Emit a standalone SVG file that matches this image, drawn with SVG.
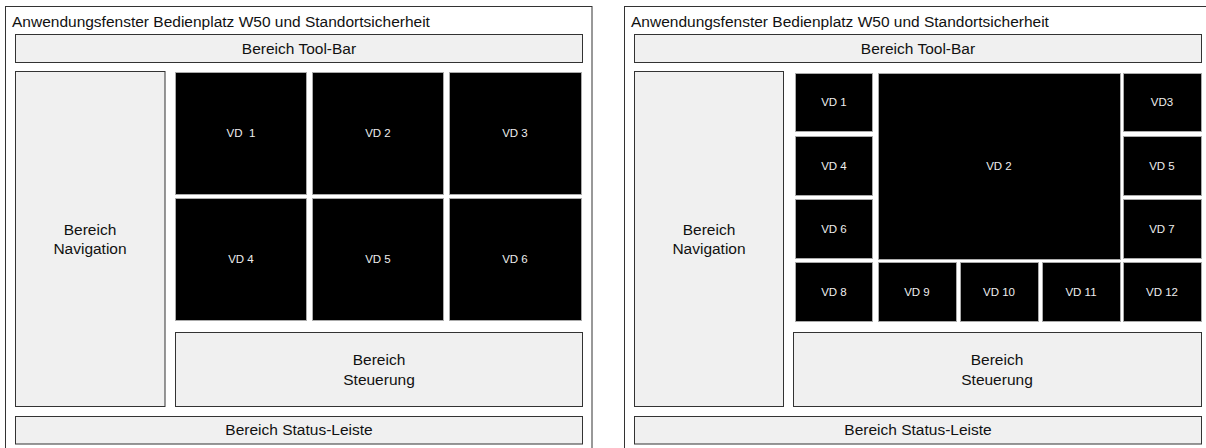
<svg xmlns="http://www.w3.org/2000/svg" width="1206" height="448" viewBox="0 0 1206 448">
<style>
text{font-family:"Liberation Sans",Arial,sans-serif;}
.frame{fill:#fff;stroke:#333;stroke-width:1}
.area{fill:#f0f0f0;stroke:#333;stroke-width:1}
.tile{fill:#000;stroke:#aaa;stroke-width:1}
.t{font-size:15.5px;fill:#111;text-anchor:middle}
.title{font-size:15.5px;fill:#111}
.v{font-size:11.5px;fill:#eee;text-anchor:middle;white-space:pre}
</style>
<rect width="1206" height="448" fill="#fff"/>
<g id="left-window">
  <rect class="frame" x="5.5" y="6.5" width="586.5" height="450"/>
  <text class="title" x="12" y="26.5">Anwendungsfenster Bedienplatz W50 und Standortsicherheit</text>
</g>
<g id="left-toolbar"><rect class="area" x="15.5" y="34.5" width="567" height="28"/><text class="t" x="299" y="53.5">Bereich Tool-Bar</text></g>
<g id="left-navigation"><rect class="area" x="15.5" y="71.5" width="149.5" height="335"/><text class="t" x="90" y="235">Bereich</text><text class="t" x="90" y="253.5">Navigation</text></g>
<g id="left-vd1"><rect class="tile" x="175.5" y="72.5" width="131" height="122"/><text class="v" x="241" y="137" xml:space="preserve">VD  1</text></g>
<g id="left-vd2"><rect class="tile" x="312.5" y="72.5" width="131" height="122"/><text class="v" x="378" y="137">VD 2</text></g>
<g id="left-vd3"><rect class="tile" x="449.5" y="72.5" width="132" height="122"/><text class="v" x="515" y="137">VD 3</text></g>
<g id="left-vd4"><rect class="tile" x="175.5" y="198.5" width="131" height="122"/><text class="v" x="241" y="263">VD 4</text></g>
<g id="left-vd5"><rect class="tile" x="312.5" y="198.5" width="131" height="122"/><text class="v" x="378" y="263">VD 5</text></g>
<g id="left-vd6"><rect class="tile" x="449.5" y="198.5" width="132" height="122"/><text class="v" x="515" y="263">VD 6</text></g>
<g id="left-steuerung"><rect class="area" x="175.5" y="332.5" width="407" height="74"/><text class="t" x="379" y="365">Bereich</text><text class="t" x="379" y="384.5">Steuerung</text></g>
<g id="left-status"><rect class="area" x="15.5" y="416.5" width="567" height="27.5"/><text class="t" x="299" y="435">Bereich Status-Leiste</text></g>

<g id="right-window">
  <rect class="frame" x="624.5" y="6.5" width="600" height="450"/>
  <text class="title" x="631" y="26.5">Anwendungsfenster Bedienplatz W50 und Standortsicherheit</text>
</g>
<g id="right-toolbar"><rect class="area" x="634.5" y="34.5" width="567" height="28"/><text class="t" x="918" y="53.5">Bereich Tool-Bar</text></g>
<g id="right-navigation"><rect class="area" x="634.5" y="71.5" width="149" height="335"/><text class="t" x="709" y="235">Bereich</text><text class="t" x="709" y="253.5">Navigation</text></g>
<g id="right-vd1"><rect class="tile" x="795.5" y="73.5" width="77" height="58"/><text class="v" x="834" y="106">VD 1</text></g>
<g id="right-vd2"><rect class="tile" x="878.5" y="73.5" width="242" height="186"/><text class="v" x="999" y="170">VD 2</text></g>
<g id="right-vd3"><rect class="tile" x="1123.5" y="73.5" width="78" height="58"/><text class="v" x="1162" y="106">VD3</text></g>
<g id="right-vd4"><rect class="tile" x="795.5" y="136.5" width="77" height="59"/><text class="v" x="834" y="170">VD 4</text></g>
<g id="right-vd5"><rect class="tile" x="1123.5" y="136.5" width="78" height="59"/><text class="v" x="1162" y="170">VD 5</text></g>
<g id="right-vd6"><rect class="tile" x="795.5" y="199.5" width="77" height="59"/><text class="v" x="834" y="233">VD 6</text></g>
<g id="right-vd7"><rect class="tile" x="1123.5" y="199.5" width="78" height="59"/><text class="v" x="1162" y="233">VD 7</text></g>
<g id="right-vd8"><rect class="tile" x="795.5" y="262.5" width="77" height="59"/><text class="v" x="834" y="296">VD 8</text></g>
<g id="right-vd9"><rect class="tile" x="878.5" y="262.5" width="78" height="59"/><text class="v" x="917" y="296">VD 9</text></g>
<g id="right-vd10"><rect class="tile" x="960.5" y="262.5" width="78" height="59"/><text class="v" x="999" y="296">VD 10</text></g>
<g id="right-vd11"><rect class="tile" x="1042.5" y="262.5" width="78" height="59"/><text class="v" x="1081" y="296">VD 11</text></g>
<g id="right-vd12"><rect class="tile" x="1123.5" y="262.5" width="78" height="59"/><text class="v" x="1162" y="296">VD 12</text></g>
<g id="right-steuerung"><rect class="area" x="793.5" y="332.5" width="408" height="74"/><text class="t" x="997" y="365">Bereich</text><text class="t" x="997" y="384.5">Steuerung</text></g>
<g id="right-status"><rect class="area" x="634.5" y="416.5" width="567" height="27.5"/><text class="t" x="918" y="435">Bereich Status-Leiste</text></g>
<g id="connectors"/>
</svg>
